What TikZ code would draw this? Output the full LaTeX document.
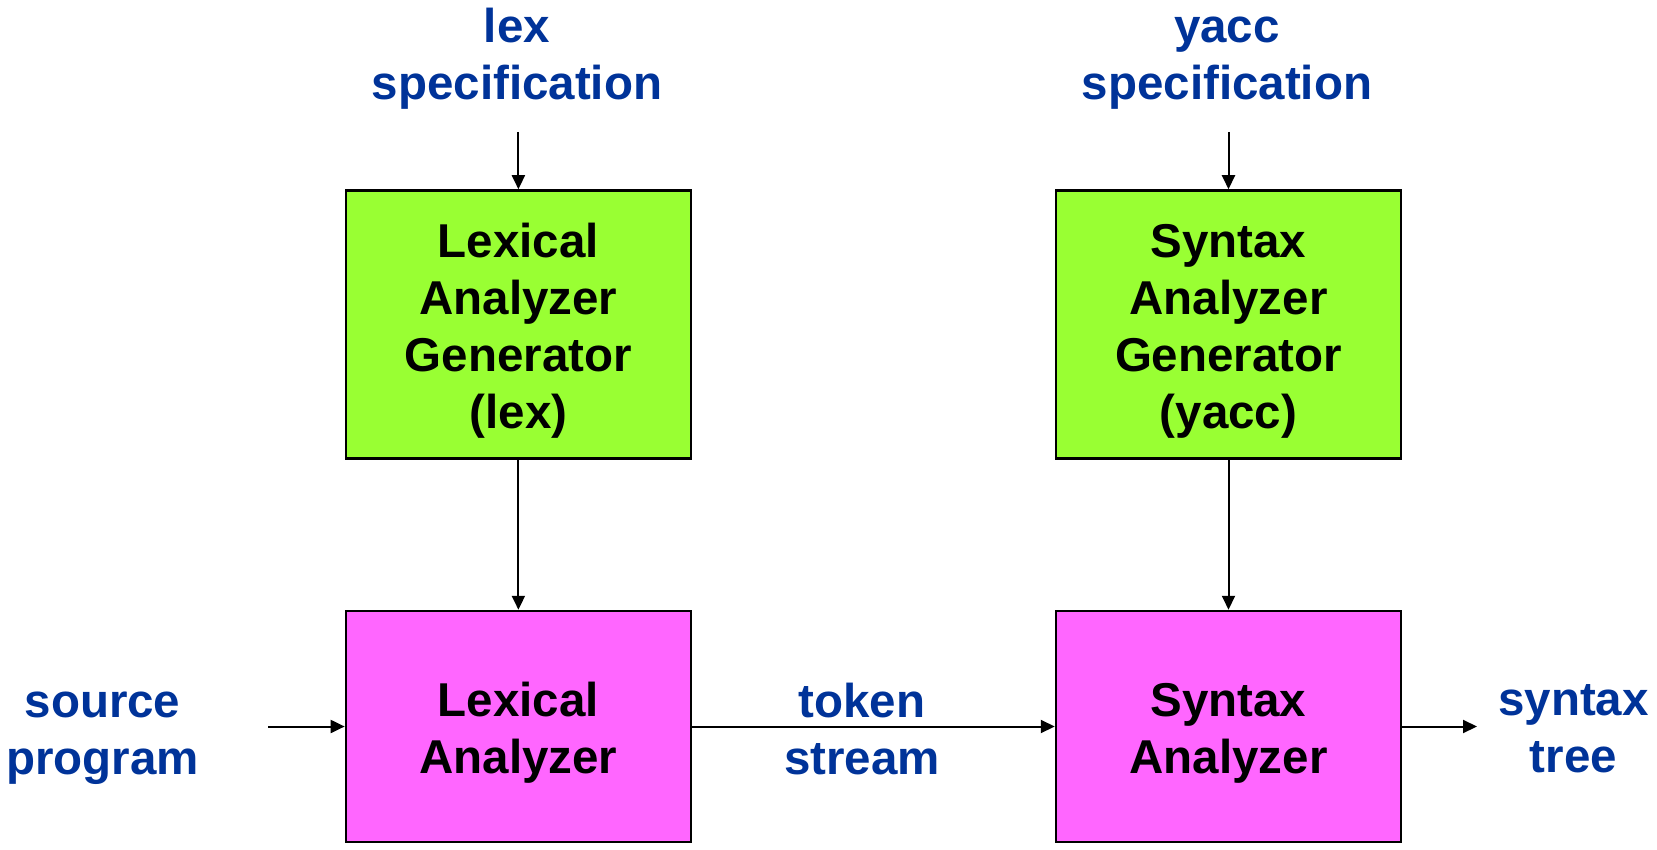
\documentclass[tikz,border=0pt]{standalone}
\usepackage{fontspec}
\setmainfont{Liberation Sans}
\usetikzlibrary{arrows.meta}
\definecolor{labelblue}{RGB}{0,51,153}
\definecolor{genfill}{RGB}{153,255,51}
\definecolor{anafill}{RGB}{255,102,255}
% struts keep every text line the same height, so multi-line nodes sit evenly
\newcommand\boxtopstrut{\rule{0pt}{54.3pt}}
\tikzset{
  every node/.style={font=\fontsize{47.5}{57}\selectfont\bfseries, align=center, inner sep=0pt},
  box/.style={draw=black, line width=2.5pt, minimum width=345pt},
  genbox/.style={box, fill=genfill, minimum height=268pt},
  anabox/.style={box, fill=anafill, minimum height=231pt},
  lbl/.style={text=labelblue},
  conn/.style={line width=2pt, -{Triangle[length=14pt,width=13pt]}}
}
\begin{document}
\begin{tikzpicture}[x=1pt,y=-1pt]
\useasboundingbox (0,0) rectangle (1657,850);

% generator boxes
\node[genbox] (lexgen) at (518.4,324.5)
  {\boxtopstrut Lexical\\\strut Analyzer\\\strut Generator\\\strut (lex)};
\node[genbox] (yaccgen) at (1228.5,324.5)
  {\boxtopstrut Syntax\\\strut Analyzer\\\strut Generator\\\strut (yacc)};

% analyzer boxes
\node[anabox] (lexan) at (518.4,726.5) {\boxtopstrut Lexical\\\strut Analyzer};
\node[anabox] (synan) at (1228.5,726.5) {\boxtopstrut Syntax\\\strut Analyzer};

% labels
\node[lbl] (lexspec) at (517,60) {\strut lex\\\strut specification};
\node[lbl] (yaccspec) at (1227,60) {\strut yacc\\\strut specification};
\node[lbl] (src) at (102.5,735) {\strut source\\\strut program};
\node[lbl] (tok) at (862,735) {\strut token\\\strut stream};
\node[lbl] (tree) at (1573.5,732.5) {\strut syntax\\\strut tree};

% free ends of the input/output arrows
\coordinate (lexin) at (518.4,132);
\coordinate (yaccin) at (1228.5,132);
\coordinate (srcout) at (268,726.5);
\coordinate (treein) at (1477,726.5);

% connectors
\draw[conn] (lexin) -- (lexgen.north);
\draw[conn] (yaccin) -- (yaccgen.north);
\draw[conn] (lexgen.south) -- (lexan.north);
\draw[conn] (yaccgen.south) -- (synan.north);
\draw[conn] (srcout) -- (lexan.west);
\draw[conn] (lexan.east) -- (synan.west);
\draw[conn] (synan.east) -- (treein);
\end{tikzpicture}
\end{document}
